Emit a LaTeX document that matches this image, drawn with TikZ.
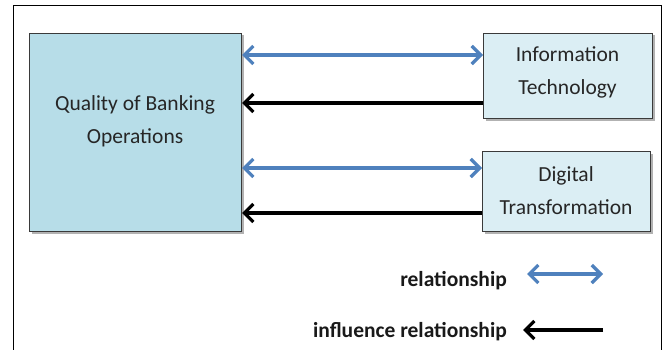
\documentclass[tikz,border=0pt]{standalone}
\usepackage{fontspec}
\setmainfont{Carlito}
\usetikzlibrary{arrows.meta,shadows}
\definecolor{qboxfill}{HTML}{B7DDE8}
\definecolor{sboxfill}{HTML}{DBEEF4}
\definecolor{relblue}{HTML}{4F81BD}
\definecolor{boxline}{HTML}{3A3A3A}
\tikzset{barbtip/.tip={Straight Barb[length=9pt,width=18pt]}}
\begin{document}
\begin{tikzpicture}[x=1pt,y=-1pt,
  box/.style={draw=boxline, line width=1pt, inner sep=0pt, anchor=north west,
    drop shadow={shadow xshift=2pt, shadow yshift=-2pt, opacity=0.3, fill=black}},
  boxtext/.style={align=center, font=\fontsize{21.5}{33}\selectfont, text=black!85},
  legendtext/.style={anchor=base east, inner sep=0pt, font=\fontsize{21.5}{26}\selectfont\bfseries, text=black!90},
  relarrow/.style={draw=relblue, line width=3.2pt, barbtip-barbtip},
  inflarrow/.style={draw=black, line width=3.2pt, -barbtip}]
  \useasboundingbox (0,0) rectangle (663,350);

  % open frame
  \draw[line width=1pt] (13,350) -- (13,6) -- (661,6) -- (661,350);

  % boxes
  \node[box, fill=qboxfill, minimum width=212pt, minimum height=198pt] (main) at (29,33) {};
  \node[boxtext] (maintext) at (135,121) {Quality of Banking\\Operations};
  \node[box, fill=sboxfill, minimum width=169pt, minimum height=85pt] (it) at (483,33) {};
  \node[boxtext] (ittext) at (567.5,72) {Information\\Technology};
  \node[box, fill=sboxfill, minimum width=168pt, minimum height=80pt] (dt) at (482,151) {};
  \node[boxtext] (dttext) at (566,191) {Digital\\Transformation};

  % connectors
  \draw[relarrow] ([yshift=-22pt]main.north east) -- ([yshift=-22pt]it.north west);
  \draw[inflarrow] ([yshift=-70pt]it.north west) -- ([yshift=-70pt]main.north east);
  \draw[relarrow] ([yshift=-135pt]main.north east) -- ([yshift=-17pt]dt.north west);
  \draw[inflarrow] ([yshift=-62pt]dt.north west) -- ([yshift=-180pt]main.north east);

  % legend
  \node[legendtext] (lrel) at (507,286) {relationship};
  \node[legendtext] (linfl) at (507,337) {influence relationship};
  \coordinate (relA) at (527,274);
  \coordinate (relB) at (603,274);
  \coordinate (inflA) at (603,330);
  \coordinate (inflB) at (523,330);
  \draw[relarrow] (relA) -- (relB);
  \draw[inflarrow] (inflA) -- (inflB);
\end{tikzpicture}
\end{document}
